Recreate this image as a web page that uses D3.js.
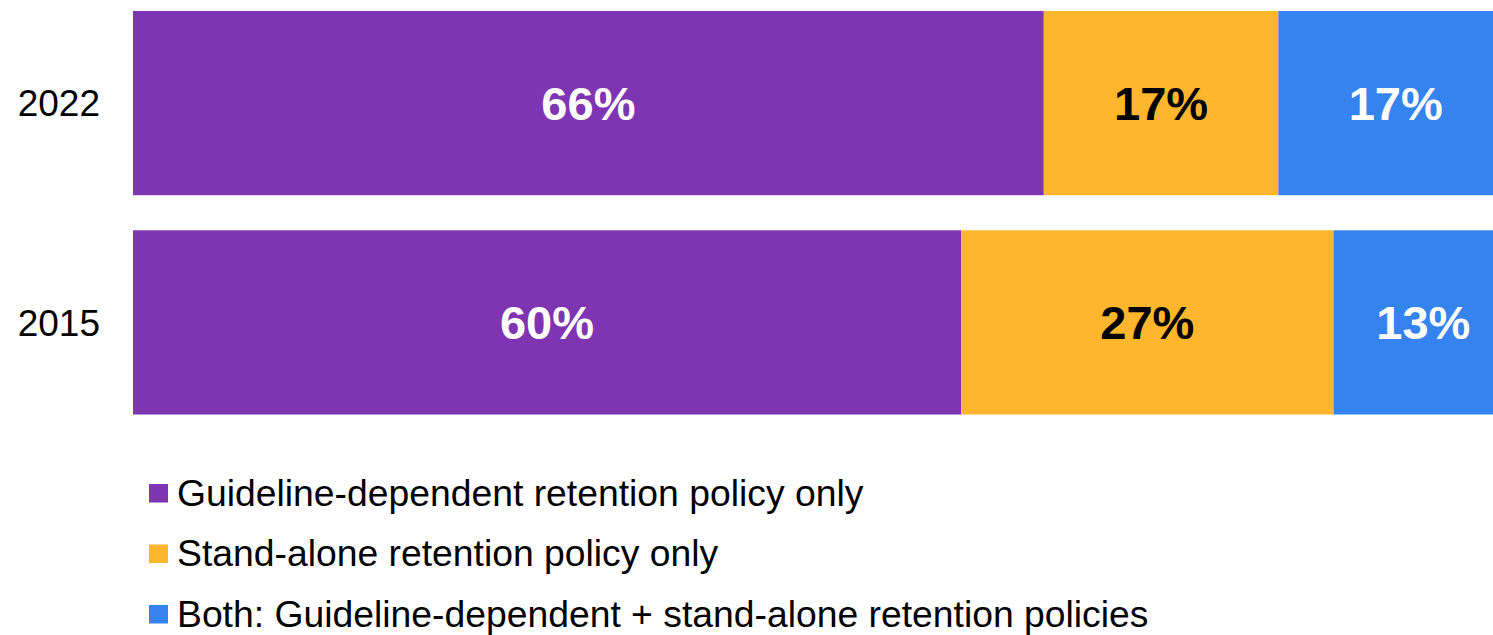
<!DOCTYPE html>
<html>
<head>
<meta charset="utf-8">
<script src="https://cdn.jsdelivr.net/npm/d3@7"></script>
<style>
  body { margin: 0; background: #fff; }
  svg { display: block; font-family: "Liberation Sans", Arial, sans-serif; }
</style>
</head>
<body>
<svg id="chart"></svg>
<script>
// data
var years = ["2022", "2015"];
var seriesNames = [
    "Guideline-dependent retention policy only",
    "Stand-alone retention policy only",
    "Both: Guideline-dependent + stand-alone retention policies"
];
var guidelineOnly = [66, 60];
var standAloneOnly = [17, 27];
var both = [17, 13];
var colors = ["#7f35b2", "#feb72d", "#3583ee"];
var labelColors = ["#fff", "#000", "#fff"];

const width = 1493, height = 635;
const svg = d3.select("#chart").attr("width", width).attr("height", height);

// stacked rows
const rows = years.map((y, i) => ({
    year: y,
    s0: guidelineOnly[i],
    s1: standAloneOnly[i],
    s2: both[i]
}));
const stack = d3.stack().keys(["s0", "s1", "s2"]);
const series = stack(rows);

// the bars run past the right edge of the picture (clipped)
const x = d3.scaleLinear().domain([0, 100]).range([133, 1513]);
const y = d3.scaleBand().domain(years).range([11, 414.5]).paddingInner(0.16);

const g = svg.append("g");

series.forEach((s, k) => {
    const layer = g.append("g").attr("fill", colors[k]);
    layer.selectAll("rect")
        .data(s)
        .enter().append("rect")
        .attr("x", d => x(d[0]))
        .attr("y", d => y(d.data.year))
        .attr("width", d => x(d[1]) - x(d[0]))
        .attr("height", y.bandwidth());

    g.append("g").selectAll("text")
        .data(s)
        .enter().append("text")
        .attr("x", d => (x(d[0]) + x(d[1])) / 2)
        .attr("y", d => y(d.data.year) + y.bandwidth() / 2)
        .attr("dy", "0.36em")
        .attr("text-anchor", "middle")
        .attr("font-weight", "bold")
        .attr("font-size", 47)
        .attr("fill", labelColors[k])
        .text(d => (d[1] - d[0]) + "%");
});

// year labels
g.append("g").selectAll("text")
    .data(years)
    .enter().append("text")
    .attr("x", 100)
    .attr("y", d => y(d) + y.bandwidth() / 2)
    .attr("dy", "0.36em")
    .attr("text-anchor", "end")
    .attr("font-size", 37)
    .attr("fill", "#000")
    .text(d => d);

// legend
const legend = svg.append("g").selectAll("g")
    .data(seriesNames)
    .enter().append("g")
    .attr("transform", (d, i) => `translate(149,${492.5 + i * 60.5})`);

legend.append("rect")
    .attr("x", 0)
    .attr("y", -8.5)
    .attr("width", 19)
    .attr("height", 18.5)
    .attr("fill", (d, i) => colors[i]);

legend.append("text")
    .attr("x", 28)
    .attr("dy", "0.36em")
    .attr("font-size", 37.3)
    .attr("fill", "#000")
    .text(d => d);
</script>
</body>
</html>
